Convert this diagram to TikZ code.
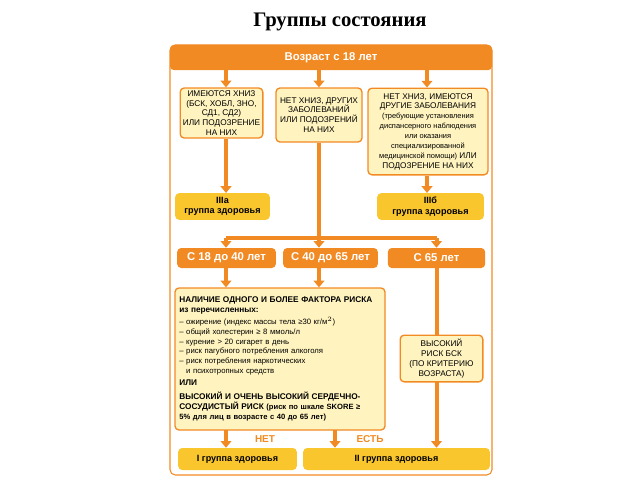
\documentclass[tikz,border=0pt]{standalone}
\usepackage{fontspec}
\setmainfont{Liberation Sans}
\newfontfamily\titlefont{Liberation Serif}
\usetikzlibrary{arrows.meta}
\definecolor{org}{HTML}{F28A24}
\definecolor{lyel}{HTML}{FFF4BF}
\definecolor{gyel}{HTML}{F9C62E}
\begin{document}
\begin{tikzpicture}[x=0.75pt,y=-0.75pt,
  lbox/.style={draw=org,line width=1pt,fill=lyel,rounded corners=3pt,align=center,font=\fontsize{6.2}{7.4}\selectfont,inner sep=1pt},
  gbox/.style={fill=gyel,rounded corners=3pt,align=center,font=\bfseries\fontsize{6.8}{7.8}\selectfont,inner sep=1pt},
  obox/.style={fill=org,rounded corners=3pt,text=white,align=center,font=\bfseries\fontsize{8.5}{9}\selectfont,inner sep=1pt},
  arr/.style={draw=org,line width=3pt,-{Triangle[length=5pt,width=8pt]}},
  ln/.style={draw=org,line width=3pt}]
\useasboundingbox (0,0) rectangle (640,480);
\node[font=\titlefont\bfseries\fontsize{15.5}{18}\selectfont] (title) at (340,22) {Группы состояния};
\draw[org,line width=0.8pt,rounded corners=4pt] (170,45) rectangle (492,475);
\node[obox,minimum width=241.5pt,minimum height=19pt] (bar) at (331,57.5) {Возраст с 18 лет};
\node[lbox,minimum width=62pt,minimum height=37.5pt] (L) at (221.5,113) {ИМЕЮТСЯ ХНИЗ\\(БСК, ХОБЛ, ЗНО,\\СД1, СД2)\\ИЛИ ПОДОЗРЕНИЕ\\НА НИХ};
\node[lbox,minimum width=64.5pt,minimum height=40.5pt] (M) at (319,115) {НЕТ ХНИЗ, ДРУГИХ\\ЗАБОЛЕВАНИЙ\\ИЛИ ПОДОЗРЕНИЙ\\НА НИХ};
\node[lbox,minimum width=90pt,minimum height=65pt] (R) at (428,131.5) {НЕТ ХНИЗ, ИМЕЮТСЯ\\ДРУГИЕ ЗАБОЛЕВАНИЯ\\{\fontsize{5.6}{7}\selectfont(требующие установления}\\{\fontsize{5.6}{7}\selectfont диспансерного наблюдения}\\{\fontsize{5.6}{7}\selectfont или оказания}\\{\fontsize{5.6}{7}\selectfont специализированной}\\{\fontsize{5.6}{7}\selectfont медицинской помощи)} ИЛИ\\ПОДОЗРЕНИЕ НА НИХ};
\node[gbox,minimum width=71pt,minimum height=20pt] (IIIa) at (222.5,206.5) {IIIа\\группа здоровья};
\node[gbox,minimum width=80pt,minimum height=20pt] (IIIb) at (430.5,206.5) {IIIб\\группа здоровья};
\node[obox,minimum width=74pt,minimum height=15pt] (A1) at (226.5,258) {С 18 до 40 лет};
\node[obox,minimum width=71pt,minimum height=15pt] (A2) at (330.5,258) {С 40 до 65 лет};
\node[obox,minimum width=73pt,minimum height=15pt] (A3) at (436.5,258) {С 65 лет};
\node[lbox,minimum width=157.5pt,minimum height=106.5pt,text width=151pt,align=left,font=\fontsize{5.8}{7.3}\selectfont] (B) at (280,359) {%
{\bfseries\fontsize{6.2}{7.5}\selectfont НАЛИЧИЕ ОДНОГО И БОЛЕЕ ФАКТОРА РИСКА\\из перечисленных:}\\[2pt]
– ожирение (индекс массы тела ≥30 кг/м$^2$)\\
– общий холестерин ≥ 8 ммоль/л\\
– курение > 20 сигарет в день\\
– риск пагубного потребления алкоголя\\
– риск потребления наркотических\\
\phantom{– }и психотропных средств\\[2pt]
{\bfseries\fontsize{6.2}{7.5}\selectfont ИЛИ}\\[3pt]
{\bfseries\fontsize{6.2}{7.5}\selectfont ВЫСОКИЙ И ОЧЕНЬ ВЫСОКИЙ СЕРДЕЧНО-\\СОСУДИСТЫЙ РИСК {\fontsize{5.7}{7.5}\selectfont(риск по шкале SKORE ≥\\5\% для лиц в возрасте с 40 до 65 лет)}}};
\node[gbox,minimum width=89pt,minimum height=16.5pt] (G1) at (237.5,459) {I группа здоровья};
\node[gbox,minimum width=140pt,minimum height=16.5pt] (G2) at (396.5,459) {II группа здоровья};
\coordinate (j) at (319,238);
\coordinate (ja) at (226,238);
\coordinate (jc) at (436.5,238);
\coordinate (b1) at (226,430);
\coordinate (b2) at (335,430);
\draw[arr] (bar.south -| 226,0) -- (L.north -| 226,0);
\draw[arr] (bar.south -| M.north) -- (M.north);
\draw[arr] (bar.south -| 427,0) -- (R.north -| 427,0);
\draw[arr] (L.south -| 226,0) -- (IIIa.north -| 226,0);
\draw[arr] (R.south -| 427,0) -- (IIIb.north -| 427,0);
\draw[ln] (M.south) -- (j);
\draw[ln] (ja) -- (jc);
\draw[arr] (ja) -- (A1.north -| ja);
\draw[arr] (j) -- (A2.north -| j);
\draw[arr] (jc) -- (A3.north);
\draw[arr] (A1.south -| ja) -- (B.north -| ja);
\draw[arr] (A2.south -| j) -- (B.north -| j);
\draw[arr] (A3.south) -- (G2.north -| A3);
\node[lbox,minimum width=62pt,minimum height=35pt] (Risk) at (441.5,358.5) {ВЫСОКИЙ\\РИСК БСК\\(ПО КРИТЕРИЮ\\ВОЗРАСТА)};
\draw[arr] (b1) -- (G1.north -| b1);
\draw[arr] (b2) -- (G2.north -| b2);
\node[text=org,font=\bfseries\fontsize{7.5}{8}\selectfont] (no) at (265,439) {НЕТ};
\node[text=org,font=\bfseries\fontsize{7.5}{8}\selectfont] (yes) at (370,439) {ЕСТЬ};
\end{tikzpicture}
\end{document}
